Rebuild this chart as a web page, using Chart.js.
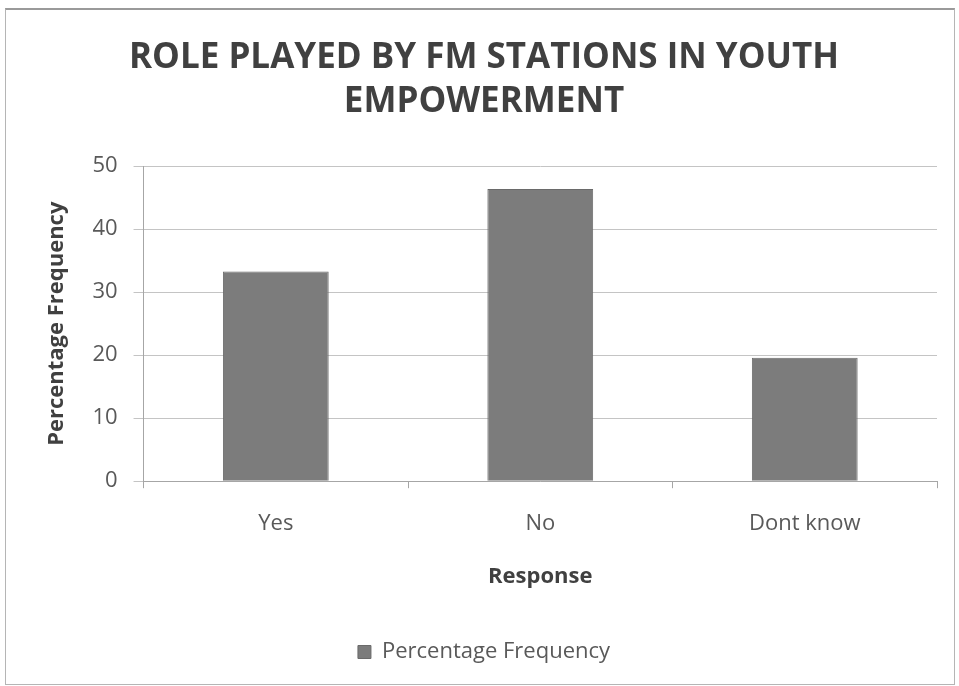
<!DOCTYPE html>
<html>
<head>
<meta charset="utf-8">
<title>Role played by FM stations in youth empowerment</title>
<script src="https://cdn.jsdelivr.net/npm/chart.js@4.4.1/dist/chart.umd.min.js"></script>
<style>
  html, body { margin: 0; padding: 0; background: #fff; }
  #wrap { position: relative; width: 959px; height: 686px; }
  #frame {
    position: absolute; left: 5px; top: 8px; width: 948px; height: 674px;
    border: 1px solid #b5b5b5; border-top: 2px solid #9a9a9a; pointer-events: none;
  }
</style>
</head>
<body>
<div id="wrap">
  <canvas id="chart" width="959" height="686"></canvas>
  <div id="frame"></div>
</div>
<script>
'use strict';

// data
var responses = ['Yes', 'No', 'Dont know'];
var percentFrequency = [33.3, 46.4, 19.6];
var seriesName = 'Percentage Frequency';
var titleLines = ['ROLE PLAYED BY FM STATIONS IN YOUTH', 'EMPOWERMENT'];
var yTicks = [0, 10, 20, 30, 40, 50];

var fontFamily = '"Open Sans", Lato, sans-serif';
var textGray = '#595959';

var ctx = document.getElementById('chart').getContext('2d');
var myChart = new Chart(ctx, {
  type: 'bar',
  data: {
    labels: responses,
    datasets: [{
      label: seriesName,
      data: percentFrequency,
      backgroundColor: '#7c7c7c',
      borderColor: '#6a6a6a',
      borderWidth: 1,
      categoryPercentage: 1.0,
      barPercentage: 0.4
    }]
  },
  options: {
    responsive: false,
    animation: false,
    layout: { padding: { left: 31, right: 22, top: 36, bottom: 13 } },
    plugins: {
      title: {
        display: true,
        text: titleLines,
        color: '#404040',
        font: { family: fontFamily, size: 35, weight: 'bold', lineHeight: 1.26 },
        padding: { top: 0, bottom: 42 }
      },
      legend: {
        position: 'bottom',
        labels: {
          color: textGray,
          font: { family: fontFamily, size: 22 },
          boxWidth: 13,
          boxHeight: 13,
          padding: 10
        }
      },
      tooltip: { enabled: false }
    },
    scales: {
      x: {
        grid: {
          offset: true,
          drawOnChartArea: false,
          color: '#a6a6a6',
          tickLength: 7
        },
        border: { color: '#a6a6a6' },
        ticks: { color: textGray, font: { family: fontFamily, size: 22 }, padding: 22 },
        title: {
          display: true,
          text: 'Response',
          color: '#404040',
          font: { family: fontFamily, size: 22, weight: 'bold' },
          padding: { top: 5, bottom: 41 }
        }
      },
      y: {
        min: 0,
        max: 50,
        afterBuildTicks: function(axis) {
          axis.ticks = yTicks.map(function(v) { return { value: v }; });
        },
        grid: { color: '#c4c4c4', tickLength: 10 },
        border: { color: '#a6a6a6' },
        ticks: { color: textGray, font: { family: fontFamily, size: 22 }, padding: 16 },
        title: {
          display: true,
          text: 'Percentage Frequency',
          color: '#404040',
          font: { family: fontFamily, size: 22, weight: 'bold' },
          padding: { top: 13, bottom: 6 }
        }
      }
    }
  }
});
</script>
</body>
</html>
